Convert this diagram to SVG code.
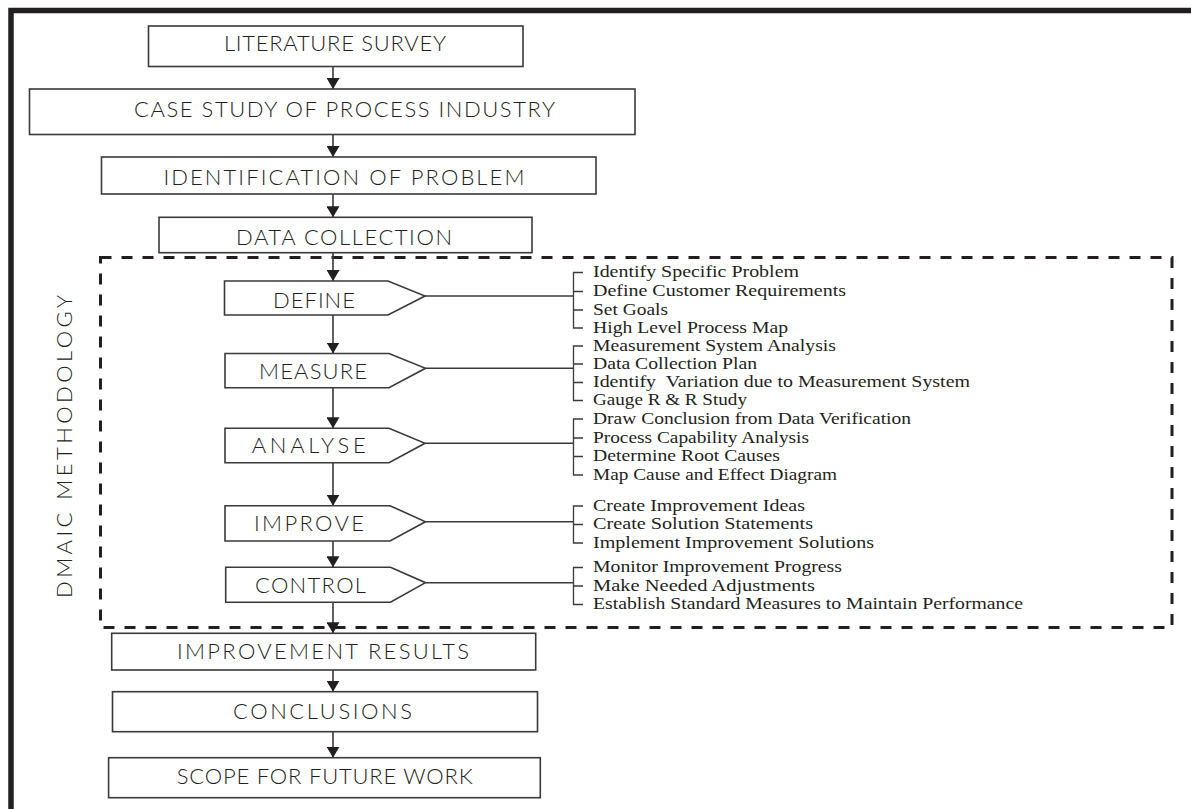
<svg xmlns="http://www.w3.org/2000/svg" width="1191" height="809" viewBox="0 0 1191 809">
<defs>
<marker id="ah" markerUnits="userSpaceOnUse" markerWidth="12" markerHeight="13" refX="11" refY="6.5" orient="auto">
<path d="M0,0 L11,6.5 L0,13 Z" fill="#231f20"/>
</marker>
<style>
.box{fill:#fff;stroke:#3a3a3a;stroke-width:1.6}
.t{font-family:Lato,"Liberation Sans",sans-serif;font-weight:300;fill:#231f20;font-size:22px}
.s{font-family:"Liberation Serif",serif;fill:#231f20;font-size:17.5px}
.ln{fill:none;stroke:#3a3a3a;stroke-width:1.4}
.ar{fill:none;stroke:#3a3a3a;stroke-width:1.6;marker-end:url(#ah)}
.br{fill:none;stroke:#3a3a3a;stroke-width:1.3}
</style>
</defs>
<rect width="1191" height="809" fill="#fff"/>
<path d="M11,809 V10.5 H1191" fill="none" stroke="#231f20" stroke-width="5.5"/>
<rect id="dmaic-frame" x="100.5" y="257.5" width="1071.5" height="370" fill="none" stroke="#231f20" stroke-width="3" stroke-dasharray="11 10"/>
<text class="t" transform="translate(71.7,446.5) rotate(-90)" text-anchor="middle" font-size="23" textLength="303" lengthAdjust="spacing">DMAIC METHODOLOGY</text>

<g id="connectors">
<line class="ar" x1="333" y1="66.5" x2="333" y2="89"/>
<line class="ar" x1="333" y1="134.5" x2="333" y2="157"/>
<line class="ar" x1="333" y1="194" x2="333" y2="217.3"/>
<line class="ar" x1="333" y1="252.7" x2="333" y2="281"/>
<line class="ar" x1="333" y1="315" x2="333" y2="353.5"/>
<line class="ar" x1="333" y1="387.7" x2="333" y2="428.3"/>
<line class="ar" x1="333" y1="462.7" x2="333" y2="505.7"/>
<line class="ar" x1="333" y1="541" x2="333" y2="567.3"/>
<line class="ar" x1="333" y1="602.3" x2="333" y2="633.3"/>
<line class="ar" x1="333" y1="670" x2="333" y2="691.7"/>
<line class="ar" x1="333" y1="731.7" x2="333" y2="757.7"/>
<line class="ln" x1="425" y1="296" x2="573.5" y2="296"/>
<line class="ln" x1="425.5" y1="368.3" x2="573.5" y2="368.3"/>
<line class="ln" x1="425" y1="443.3" x2="573.5" y2="443.3"/>
<line class="ln" x1="425.5" y1="521.7" x2="573.5" y2="521.7"/>
<line class="ln" x1="425.5" y1="582.7" x2="573.5" y2="582.7"/>
</g>

<g id="n-literature">
<rect class="box" x="148.5" y="26" width="374.5" height="40.5"/>
<text class="t" x="224" y="50.7" font-size="19" textLength="222" lengthAdjust="spacing">LITERATURE SURVEY</text>
</g>
<g id="n-case">
<rect class="box" x="29.5" y="89" width="605.5" height="45.5"/>
<text class="t" x="134" y="116.7" font-size="24" textLength="421" lengthAdjust="spacing">CASE STUDY OF PROCESS INDUSTRY</text>
</g>
<g id="n-ident">
<rect class="box" x="101.5" y="157" width="494.5" height="37"/>
<text class="t" x="163.4" y="185" font-size="21" textLength="361" lengthAdjust="spacing">IDENTIFICATION OF PROBLEM</text>
</g>
<g id="n-data">
<rect class="box" x="159" y="217.3" width="373" height="35.4"/>
<text class="t" x="236" y="245" font-size="21" textLength="216" lengthAdjust="spacing">DATA COLLECTION</text>
</g>

<g id="n-define">
<path class="box" d="M224.5,281 H388 L425,296 L388,315 H224.5 Z"/>
<text class="t" x="273" y="308.3" font-size="23" textLength="82" lengthAdjust="spacing">DEFINE</text>
</g>
<g id="n-measure">
<path class="box" d="M225,353.5 H389 L425.5,368.3 L389,387.7 H225 Z"/>
<text class="t" x="259" y="379.3" font-size="21" textLength="108" lengthAdjust="spacing">MEASURE</text>
</g>
<g id="n-analyse">
<path class="box" d="M225,428.3 H389 L425,443.3 L389,462.7 H225 Z"/>
<text class="t" x="251.7" y="453.3" font-size="22" textLength="114" lengthAdjust="spacing">ANALYSE</text>
</g>
<g id="n-improve">
<path class="box" d="M225,505.7 H390 L425.5,521.7 L390,541 H225 Z"/>
<text class="t" x="254" y="531" font-size="23" textLength="110" lengthAdjust="spacing">IMPROVE</text>
</g>
<g id="n-control">
<path class="box" d="M225.7,567.3 H390.5 L425.5,582.7 L390.5,602.3 H225.7 Z"/>
<text class="t" x="255" y="593.3" font-size="22" textLength="111" lengthAdjust="spacing">CONTROL</text>
</g>

<g id="n-results">
<rect class="box" x="111.7" y="633.3" width="424" height="36.7"/>
<text class="t" x="177" y="659" font-size="22" textLength="292" lengthAdjust="spacing">IMPROVEMENT RESULTS</text>
</g>
<g id="n-conclusions">
<rect class="box" x="112.5" y="691.7" width="425" height="40"/>
<text class="t" x="233" y="719" font-size="22" textLength="179" lengthAdjust="spacing">CONCLUSIONS</text>
</g>
<g id="n-scope">
<rect class="box" x="108.6" y="757.7" width="431.7" height="40"/>
<text class="t" x="176.7" y="784.3" font-size="21" textLength="296" lengthAdjust="spacing">SCOPE FOR FUTURE WORK</text>
</g>

<g id="list-define">
<path class="br" d="M583,272.5 H573.5 V328 H583 M573.5,291.5 H583 M573.5,310 H583"/>
<text class="s" x="593" y="277" textLength="206" lengthAdjust="spacingAndGlyphs">Identify Specific Problem</text>
<text class="s" x="593" y="296" textLength="253" lengthAdjust="spacingAndGlyphs">Define Customer Requirements</text>
<text class="s" x="593" y="314.5" textLength="75" lengthAdjust="spacingAndGlyphs">Set Goals</text>
<text class="s" x="593" y="332.5" textLength="195" lengthAdjust="spacingAndGlyphs">High Level Process Map</text>
</g>
<g id="list-measure">
<path class="br" d="M583,346 H573.5 V400.5 H583 M573.5,364 H583 M573.5,382.5 H583"/>
<text class="s" x="593" y="350.5" textLength="243" lengthAdjust="spacingAndGlyphs">Measurement System Analysis</text>
<text class="s" x="593" y="368.5" textLength="164" lengthAdjust="spacingAndGlyphs">Data Collection Plan</text>
<text class="s" x="593" y="387" textLength="377" lengthAdjust="spacingAndGlyphs" style="white-space:pre">Identify  Variation due to Measurement System</text>
<text class="s" x="593" y="405" textLength="154" lengthAdjust="spacingAndGlyphs">Gauge R &amp; R Study</text>
</g>
<g id="list-analyse">
<path class="br" d="M583,419 H573.5 V475 H583 M573.5,438 H583 M573.5,456.5 H583"/>
<text class="s" x="593" y="423.5" textLength="318" lengthAdjust="spacingAndGlyphs">Draw Conclusion from Data Verification</text>
<text class="s" x="593" y="442.5" textLength="216" lengthAdjust="spacingAndGlyphs">Process Capability Analysis</text>
<text class="s" x="593" y="461" textLength="187" lengthAdjust="spacingAndGlyphs">Determine Root Causes</text>
<text class="s" x="593" y="479.5" textLength="244" lengthAdjust="spacingAndGlyphs">Map Cause and Effect Diagram</text>
</g>
<g id="list-improve">
<path class="br" d="M583,506 H573.5 V543 H583 M573.5,524.5 H583"/>
<text class="s" x="593" y="510.5" textLength="212" lengthAdjust="spacingAndGlyphs">Create Improvement Ideas</text>
<text class="s" x="593" y="529" textLength="220" lengthAdjust="spacingAndGlyphs">Create Solution Statements</text>
<text class="s" x="593" y="547.5" textLength="281" lengthAdjust="spacingAndGlyphs">Implement Improvement Solutions</text>
</g>
<g id="list-control">
<path class="br" d="M583,567.5 H573.5 V604.5 H583 M573.5,586 H583"/>
<text class="s" x="593" y="572" textLength="249" lengthAdjust="spacingAndGlyphs">Monitor Improvement Progress</text>
<text class="s" x="593" y="590.5" textLength="222" lengthAdjust="spacingAndGlyphs">Make Needed Adjustments</text>
<text class="s" x="593" y="609" textLength="430" lengthAdjust="spacingAndGlyphs">Establish Standard Measures to Maintain Performance</text>
</g>
</svg>
